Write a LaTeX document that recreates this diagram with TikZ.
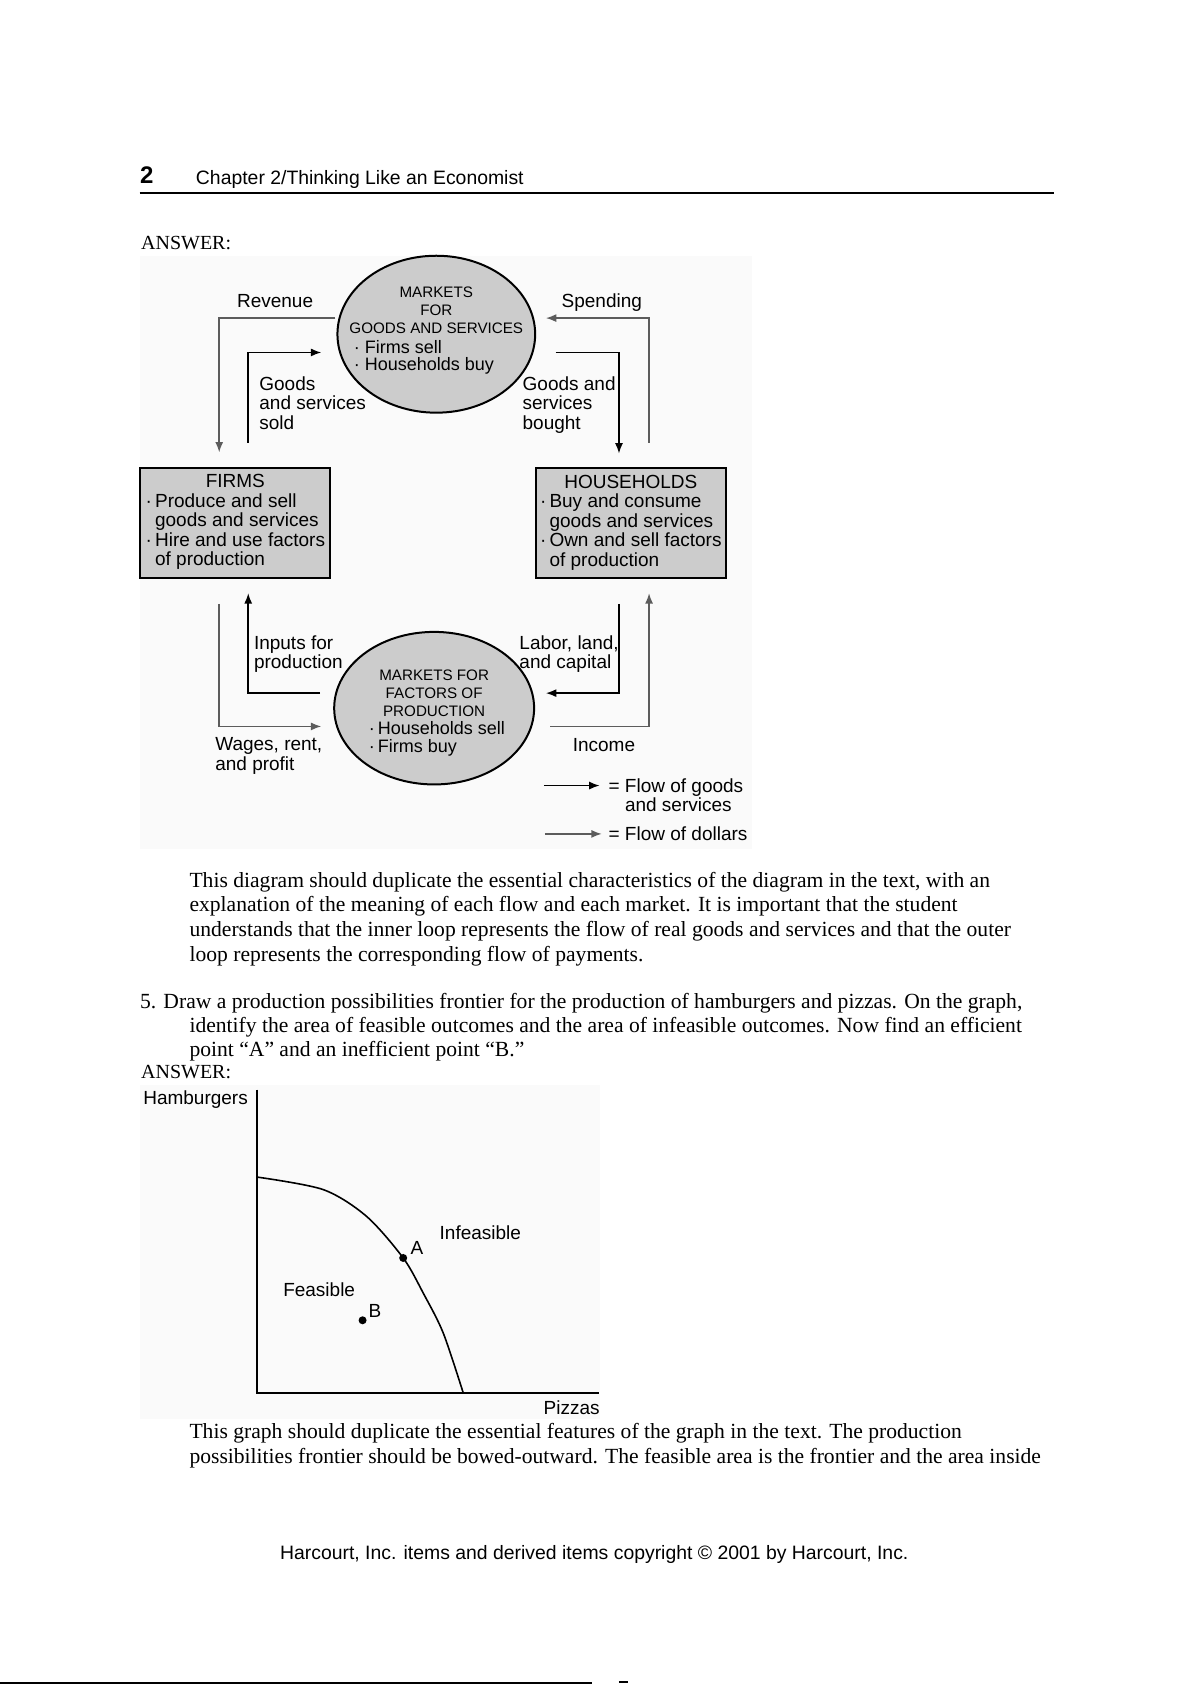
\documentclass[tikz,border=0pt]{standalone}
\usepackage{fontspec}
\setmainfont{Liberation Serif}
\setsansfont{Liberation Sans}
\usetikzlibrary{arrows.meta,positioning,calc,shapes.geometric}
\definecolor{CfBoxGray}{RGB}{204,204,204}
\definecolor{CfDollar}{RGB}{92,92,92}
\definecolor{CfPanel}{RGB}{250,250,250}
\tikzset{
  cf/box/.style={
    draw=black,
    line width=1pt,
    fill=CfBoxGray,
    minimum width=95pt,
    minimum height=55pt,
    inner sep=0pt
  },
  cf/market/.style={
    ellipse,
    draw=black,
    line width=1pt,
    fill=CfBoxGray,
    inner sep=0pt
  },
  cf/boxtext/.style={font=\sffamily\fontsize{9.5}{9.7}\selectfont, inner sep=0pt},
  cf/marketcaps/.style={font=\sffamily\fontsize{7.6}{8.9}\selectfont, align=center, inner sep=0pt, anchor=north},
  cf/marketitems/.style={font=\sffamily\fontsize{9}{8.9}\selectfont, align=left, inner sep=0pt, anchor=north west},
  cf/label/.style={font=\sffamily\fontsize{9.5}{9.7}\selectfont, align=left, inner sep=0pt},
  cf/goods/.style={-{Latex[length=5.2pt,width=4pt]}, line width=0.75pt, draw=black},
  cf/dollars/.style={-{Latex[length=5.2pt,width=4pt]}, line width=0.75pt, draw=CfDollar},
  cf/body/.style={font=\fontsize{10.8}{12.4}\selectfont, align=left, inner sep=0pt, anchor=north west},
  cf/answer/.style={font=\fontsize{10}{12}\selectfont, inner sep=0pt, anchor=north west},
  cf/dot/.style={circle, fill=black, inner sep=0pt, minimum size=4pt}
}

\begin{document}
\begin{tikzpicture}[x=0.5375pt,y=-0.5375pt]
  \useasboundingbox[fill=white] (0,0) rectangle (1108,1568);

  % page header
  \node[font=\sffamily\bfseries\fontsize{12}{14}\selectfont, anchor=base west, inner sep=0pt] (pagenum) at (130,171) {2};
  \node[font=\sffamily\fontsize{9.7}{11}\selectfont, anchor=base west, inner sep=0pt] (chapter) at (182,172) {Chapter 2/Thinking Like an Economist};
  \draw[line width=1pt] (130,180) -- (981,180);
  \node[cf/answer] (answer1) at (131,219.5) {ANSWER:};

  % circular flow diagram
  \fill[CfPanel] (130,238) rectangle (700,790);
  \node[cf/market, minimum width=98.9pt, minimum height=78.5pt] (gsmkt) at (406,311) {};
  \node[cf/marketcaps] (gscaps) at ($(gsmkt)+(0,-44)$) {MARKETS\\FOR\\GOODS AND SERVICES};
  \node[cf/marketitems] (gsitems) at ($(gsmkt)+(-77,5)$) {·\ Firms sell\\·\ Households buy};
  \node[cf/market, minimum width=100pt, minimum height=76.3pt] (fpmkt) at (404,659) {};
  \node[cf/marketcaps] (fpcaps) at ($(fpmkt)+(0,-36)$) {MARKETS FOR\\FACTORS OF\\PRODUCTION};
  \node[cf/marketitems] (fpitems) at ($(fpmkt)+(-61,12)$) {·\,Households sell\\·\,Firms buy};
  \node[cf/box] (firms) at (219,486.5) {};
  \node[cf/boxtext] (firmstext) at (firms) {\begin{tabular}{@{}l@{}}
    \multicolumn{1}{c}{FIRMS}\\
    ·\,Produce and sell\\
    \phantom{·\,}goods and services\\
    ·\,Hire and use factors\\
    \phantom{·\,}of production
  \end{tabular}};
  \node[cf/box] (households) at (587,487) {};
  \node[cf/boxtext] (hhtext) at (households) {\begin{tabular}{@{}l@{}}
    \multicolumn{1}{c}{HOUSEHOLDS}\\
    ·\,Buy and consume\\
    \phantom{·\,}goods and services\\
    ·\,Own and sell factors\\
    \phantom{·\,}of production
  \end{tabular}};

  % flow labels
  \node[cf/label, anchor=base] (revenue) at (256,286) {Revenue};
  \node[cf/label, anchor=base] (spending) at (560,286) {Spending};
  \node[cf/label, anchor=north west] (gssold) at (241,350) {Goods\\and services\\sold};
  \node[cf/label, anchor=north west] (gsbought) at (486,350) {Goods and\\services\\bought};
  \node[cf/label, anchor=north west] (inputs) at (236,591) {Inputs for\\production};
  \node[cf/label, anchor=north west] (labor) at (483,591) {Labor, land,\\and capital};
  \node[cf/label, anchor=north west] (wages) at (200,686) {Wages, rent,\\and profit};
  \node[cf/label, anchor=base] (income) at (562,699) {Income};

  % arrow ends
  \coordinate (revstart) at (312,296);
  \coordinate (revend) at (204,421);
  \coordinate (soldstart) at (231,412);
  \coordinate (soldend) at (299,328);
  \coordinate (spendstart) at (604,412);
  \coordinate (spendend) at (508,296);
  \coordinate (boughtstart) at (517,328);
  \coordinate (boughtend) at (576,422);
  \coordinate (inputstart) at (298,645);
  \coordinate (inputend) at (231,552);
  \coordinate (wagestart) at (204,562);
  \coordinate (wageend) at (299,676);
  \coordinate (laborstart) at (576,562);
  \coordinate (laborend) at (508,645);
  \coordinate (incomestart) at (512,676);
  \coordinate (incomeend) at (604,552);
  \draw[cf/dollars] (revstart) -| (revend);
  \draw[cf/goods] (soldstart) |- (soldend);
  \draw[cf/dollars] (spendstart) |- (spendend);
  \draw[cf/goods] (boughtstart) -| (boughtend);
  \draw[cf/goods] (inputstart) -| (inputend);
  \draw[cf/dollars] (wagestart) |- (wageend);
  \draw[cf/goods] (laborstart) |- (laborend);
  \draw[cf/dollars] (incomestart) -| (incomeend);

  % key
  \coordinate (keygoods0) at (506,731);
  \coordinate (keygoods1) at (558,731);
  \coordinate (keydollars0) at (507,776);
  \coordinate (keydollars1) at (560,776);
  \draw[cf/goods] (keygoods0) -- (keygoods1);
  \draw[cf/dollars] (keydollars0) -- (keydollars1);
  \node[cf/label, anchor=north west] (keygoodstext) at (566,724) {= Flow of goods\\\phantom{=\ }and services};
  \node[cf/label, anchor=base west] (keydollarstext) at (566,782) {= Flow of dollars};

  % text between the figures
  \node[cf/body] (para1) at (176,811) {This diagram should duplicate the essential characteristics of the diagram in the text, with an\\
    explanation of the meaning of each flow and each market. It is important that the student\\
    understands that the inner loop represents the flow of real goods and services and that the outer\\
    loop represents the corresponding flow of payments.};
  \node[cf/body] (q5a) at (130,924) {5. Draw a production possibilities frontier for the production of hamburgers and pizzas. On the graph,};
  \node[cf/body] (q5b) at (176,946) {identify the area of feasible outcomes and the area of infeasible outcomes. Now find an efficient\\
    point “A” and an inefficient point “B.”};
  \node[cf/answer] (answer2) at (131,990.5) {ANSWER:};

  % production possibilities frontier
  \fill[CfPanel] (130,1010) rectangle (558,1320);
  \draw[line width=0.9pt] (239,1014) -- (239,1296) -- (557,1296);
  \draw[line width=0.8pt] plot[smooth] coordinates {(239,1095.3) (300.8,1107) (341.1,1131.9) (375.2,1170.6) (393.8,1203.2) (412.4,1240.3) (431,1296)};
  \node[cf/dot] (ptA) at (375.2,1170.6) {};
  \node[cf/dot] (ptB) at (337.4,1228.6) {};
  \node[cf/label] (labA) at (388,1161) {A};
  \node[cf/label] (labB) at (349,1220) {B};
  \node[cf/label] (infeasible) at (447,1147) {Infeasible};
  \node[cf/label] (feasible) at (297,1200) {Feasible};
  \node[cf/label] (hamburgers) at (182,1023) {Hamburgers};
  \node[cf/label] (pizzas) at (532,1310) {Pizzas};

  \node[cf/body] (para3) at (176,1324) {This graph should duplicate the essential features of the graph in the text. The production\\
    possibilities frontier should be bowed-outward. The feasible area is the frontier and the area inside};

  % page footer
  \node[font=\sffamily\fontsize{9.7}{11}\selectfont, anchor=base, inner sep=0pt] (footer) at (553,1451) {Harcourt, Inc. items and derived items copyright © 2001 by Harcourt, Inc.};
  \draw[line width=0.8pt] (0,1566) -- (551,1566);
  \draw[line width=0.8pt] (576,1565) -- (584,1565);
\end{tikzpicture}
\end{document}
